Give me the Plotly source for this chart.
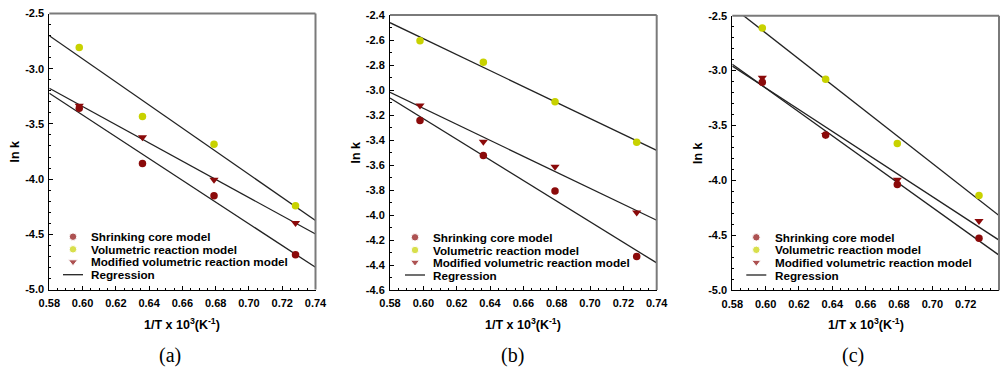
import numpy as np
import plotly.graph_objects as go

# ---------------- data ----------------
inv_T = [0.598, 0.636, 0.679, 0.728]

a_shrinking = [-3.358, -3.859, -4.150, -4.686]
a_volumetric = [-2.807, -3.434, -3.684, -4.241]
a_modified = [-3.335, -3.620, -4.006, -4.397]

b_shrinking = [-3.243, -3.523, -3.808, -4.331]
b_volumetric = [-2.605, -2.778, -3.094, -3.418]
b_modified = [-3.123, -3.413, -3.613, -3.979]

c_shrinking = [-3.105, -3.585, -4.036, -4.527]
c_volumetric = [-2.612, -3.078, -3.664, -4.136]
c_modified = [-3.066, -3.585, -3.994, -4.369]

x_range = [0.58, 0.74]
x_ticks = [0.58, 0.60, 0.62, 0.64, 0.66, 0.68, 0.70, 0.72, 0.74]
x_ticklabels = ["0.58", "0.60", "0.62", "0.64", "0.66", "0.68", "0.70", "0.72", "0.74"]
y_ranges = [[-5.0, -2.5], [-4.6, -2.4], [-5.0, -2.5]]
y_ticks_ac = [-5.0, -4.5, -4.0, -3.5, -3.0, -2.5]
y_ticklabels_ac = ["-5.0", "-4.5", "-4.0", "-3.5", "-3.0", "-2.5"]
y_ticks_b = [-4.6, -4.4, -4.2, -4.0, -3.8, -3.6, -3.4, -3.2, -3.0, -2.8, -2.6, -2.4]
y_ticklabels_b = ["-4.6", "-4.4", "-4.2", "-4.0", "-3.8", "-3.6", "-3.4", "-3.2",
                  "-3.0", "-2.8", "-2.6", "-2.4"]
panel_labels = ["(a)", "(b)", "(c)"]
series_names = ["Shrinking core model", "Volumetric reaction model",
                "Modified volumetric reaction model", "Regression"]

panels = [
    (a_shrinking, a_volumetric, a_modified),
    (b_shrinking, b_volumetric, b_modified),
    (c_shrinking, c_volumetric, c_modified),
]
y_tick_sets = [(y_ticks_ac, y_ticklabels_ac), (y_ticks_b, y_ticklabels_b),
               (y_ticks_ac, y_ticklabels_ac)]

# ---------------- style ----------------
RED = "#8b0a0a"
YEL = "#c8d200"
FONT = "Arial, Liberation Sans, sans-serif"
W, H = 1008, 371

# plot-area pixel boxes (left, right, top, bottom)
boxes = [(49.3, 315.5, 13.5, 289.5), (390.0, 656.7, 15.0, 290.0), (732.3, 999.0, 15.7, 290.3)]
# legend key: marker centre x, text start x, row centres y
legend_key_x = [73, 415, 756.3]
legend_text_x = [89, 430.7, 772.7]
legend_rows = [[236.7, 249.3, 261.8, 274.7], [237.3, 250.0, 262.2, 275.0],
               [237.3, 249.8, 262.3, 275.0]]
ytitle_x = [15, 355, 698]
panel_label_x = [170, 512, 853]

fig = go.Figure()
xfit = np.array(x_range)

for i, (shr, vol, mod) in enumerate(panels):
    n = "" if i == 0 else str(i + 1)
    xa, ya = "x" + n, "y" + n
    for k, ys in enumerate([shr, vol, mod]):
        p = np.polyfit(inv_T, ys, 1)
        fig.add_trace(go.Scatter(
            x=xfit, y=np.polyval(p, xfit), mode="lines",
            line=dict(color="#222222", width=1.3),
            name=series_names[3], showlegend=False,
            xaxis=xa, yaxis=ya, hoverinfo="skip"))
    fig.add_trace(go.Scatter(
        x=inv_T, y=mod, mode="markers", name=series_names[2],
        marker=dict(symbol="triangle-down", size=8, color=RED),
        showlegend=False, xaxis=xa, yaxis=ya, cliponaxis=False))
    fig.add_trace(go.Scatter(
        x=inv_T, y=vol, mode="markers", name=series_names[1],
        marker=dict(symbol="circle", size=7.5, color=YEL),
        showlegend=False, xaxis=xa, yaxis=ya, cliponaxis=False))
    fig.add_trace(go.Scatter(
        x=inv_T, y=shr, mode="markers", name=series_names[0],
        marker=dict(symbol="circle", size=7.5, color=RED),
        showlegend=False, xaxis=xa, yaxis=ya, cliponaxis=False))

    # hand-drawn legend keys on a pixel-space overlay axis
    kx = legend_key_x[i]
    rows = legend_rows[i]
    fig.add_trace(go.Scatter(
        x=[kx, kx, kx], y=rows[:3], mode="markers", showlegend=False, hoverinfo="skip",
        marker=dict(symbol=["circle", "circle", "triangle-down"], size=[7.5, 7.5, 8],
                    color=[RED, YEL, RED]),
        xaxis="x4", yaxis="y4", cliponaxis=False))
    fig.add_trace(go.Scatter(
        x=[kx - 10, kx + 10], y=[rows[3], rows[3]], mode="lines", showlegend=False,
        hoverinfo="skip", line=dict(color="#222222", width=1.3),
        xaxis="x4", yaxis="y4"))

layout = dict(
    width=W, height=H, autosize=False,
    margin=dict(l=0, r=0, t=0, b=0, pad=0, autoexpand=False),
    paper_bgcolor="white", plot_bgcolor="rgba(0,0,0,0)",
    showlegend=False,
    font=dict(family=FONT, color="black"),
    xaxis4=dict(domain=[0, 1], range=[0, W], visible=False, anchor="y4", automargin=False),
    yaxis4=dict(domain=[0, 1], range=[H, 0], visible=False, anchor="x4", automargin=False),
)

annotations = []
shapes = []
for i in range(3):
    n = "" if i == 0 else str(i + 1)
    l, r, t, b = boxes[i]
    xd = [l / W, r / W]
    yd = [1 - b / H, 1 - t / H]
    yt, ytl = y_tick_sets[i]
    layout["xaxis" + n] = dict(
        domain=xd, range=x_range, anchor="y" + n, automargin=False,
        tickmode="array", tickvals=x_ticks, ticktext=["<b>%s</b>" % s for s in x_ticklabels],
        showline=True, linecolor="black", linewidth=1,
        ticks="inside", ticklen=4, tickcolor="black", tickwidth=1,
        minor=dict(dtick=0.005, tick0=0.58, ticks="inside", ticklen=2, tickcolor="black"),
        showgrid=False, zeroline=False, ticklabelstandoff=3,
        tickfont=dict(family=FONT, size=11))
    layout["yaxis" + n] = dict(
        domain=yd, range=y_ranges[i], anchor="x" + n, automargin=False,
        tickmode="array", tickvals=yt, ticktext=["<b>%s</b>" % s for s in ytl],
        showline=True, linecolor="black", linewidth=1,
        ticks="inside", ticklen=4, tickcolor="black", tickwidth=1,
        minor=dict(dtick=0.1, tick0=-5.0, ticks="inside", ticklen=2, tickcolor="black"),
        showgrid=False, zeroline=False, ticklabelstandoff=2,
        tickfont=dict(family=FONT, size=11))
    # gray top/right frame
    shapes.append(dict(type="line", xref="x" + n + " domain", yref="y" + n + " domain",
                       x0=0, x1=1, y0=1, y1=1, line=dict(color="#7a7a7a", width=2)))
    shapes.append(dict(type="line", xref="x" + n + " domain", yref="y" + n + " domain",
                       x0=1, x1=1, y0=0, y1=1, line=dict(color="#7a7a7a", width=2)))
    # legend texts
    for name, yy in zip(series_names, legend_rows[i]):
        annotations.append(dict(
            text="<b>%s</b>" % name, xref="paper", yref="paper",
            x=legend_text_x[i] / W, y=1 - yy / H, showarrow=False,
            xanchor="left", yanchor="middle", font=dict(family=FONT, size=11.7)))
    # axis titles
    annotations.append(dict(
        text="<b>1/T x 10<sup>3</sup>(K<sup>-1</sup>)</b>", xref="paper", yref="paper",
        x=(l + r) / 2 / W, y=1 - 324 / H, showarrow=False,
        xanchor="center", yanchor="middle", font=dict(family=FONT, size=12.5)))
    annotations.append(dict(
        text="<b>ln k</b>", xref="paper", yref="paper",
        x=ytitle_x[i] / W, y=1 - ((t + b) / 2) / H, showarrow=False, textangle=-90,
        xanchor="center", yanchor="middle", font=dict(family=FONT, size=12.5)))
    annotations.append(dict(
        text=panel_labels[i], xref="paper", yref="paper",
        x=panel_label_x[i] / W, y=1 - 355 / H, showarrow=False,
        xanchor="center", yanchor="middle",
        font=dict(family="Times New Roman, Liberation Serif, serif", size=20)))

layout["annotations"] = annotations
layout["shapes"] = shapes
fig.update_layout(**layout)
fig.write_html("out.html")
